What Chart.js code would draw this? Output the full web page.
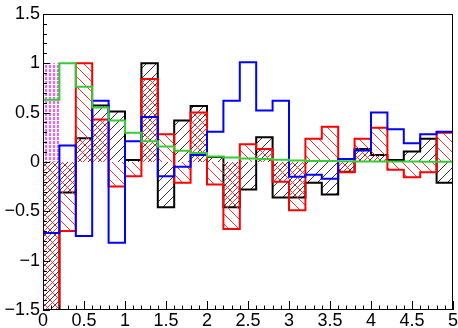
<!DOCTYPE html>
<html><head><meta charset="utf-8">
<script src="https://cdn.jsdelivr.net/npm/chart.js@4"></script>
<style>html,body{margin:0;padding:0;background:#fff;overflow:hidden}</style>
</head><body>
<canvas id="c" width="458" height="328"></canvas>
<script>
// ---- data (25 bins of width 0.2 on [0,5]) ----
const binLow = [0,0.2,0.4,0.6,0.8,1.0,1.2,1.4,1.6,1.8,2.0,2.2,2.4,2.6,2.8,3.0,3.2,3.4,3.6,3.8,4.0,4.2,4.4,4.6,4.8];
const xMax = 5;
const blackVals = [-1.6,-0.31,0.24,0.57,0.51,0.02,1.0,-0.46,0.42,0.565,0.05,-0.46,-0.28,0.25,-0.36,-0.36,-0.21,-0.33,-0.10,0.13,0.07,0.02,0.105,0.235,-0.21];
const redVals   = [-1.6,-0.70,1.0,0.43,-0.25,-0.145,0.84,0.28,-0.21,0.50,-0.23,-0.68,0.18,0.13,-0.20,-0.49,0.235,0.355,-0.105,0.235,0.345,-0.08,-0.155,-0.105,0.295];
const blueVals  = [-0.72,0.165,-0.75,0.62,-0.82,0.21,0.455,-0.145,-0.05,0.07,0.305,0.62,1.01,0.52,0.62,-0.15,-0.13,-0.17,0.03,0.115,0.50,0.33,0.19,0.28,0.305];
const greenVals = [0.63,1.0,0.76,0.55,0.42,0.295,0.21,0.155,0.113,0.09,0.055,0.045,0.035,0.03,0.022,0.015,0.01,0.008,0.006,0.005,0.004,0.003,0.003,0.002,0.002];
const magentaVals = [1.0,0,0,0,0,0,0,0,0,0,0,0,0,0,0,0,0,0,0,0,0,0,0,0,0];
const xTickLabels = ['0','0.5','1','1.5','2','2.5','3','3.5','4','4.5','5'];
const yTickLabels = ['\u22121.5','\u22121','\u22120.5','0','0.5','1','1.5'];

// overlap of black and red (same sign) -> drawn cross-hatched
const overlapVals = blackVals.map((b,i)=>{const r=redVals[i]; return (b*r>0)?Math.sign(b)*Math.min(Math.abs(b),Math.abs(r)):0;});

function steps(vals){
  const pts = binLow.map((x,i)=>({x:x,y:vals[i]}));
  pts.push({x:xMax,y:vals[vals.length-1]});
  return pts;
}
function hatch(color, kind, s){
  const c=document.createElement('canvas'); c.width=s; c.height=s;
  const g=c.getContext('2d'); g.strokeStyle=color; g.lineWidth=1;
  g.beginPath();
  if(kind==='/'){ g.moveTo(-1,s+1); g.lineTo(s+1,-1); g.moveTo(-2,2); g.lineTo(2,-2); g.moveTo(s-2,s+2); g.lineTo(s+2,s-2); }
  else if(kind==='\\'){ g.moveTo(-1,-1); g.lineTo(s+1,s+1); g.moveTo(s-2,-2); g.lineTo(s+2,2); g.moveTo(-2,s-2); g.lineTo(2,s+2); }
  else if(kind==='/o'){ const h=s/2; g.moveTo(-1,h+1); g.lineTo(h+1,-1); g.moveTo(h-1,s+1); g.lineTo(s+1,h-1); }
  else if(kind==='|'){ g.lineWidth=1.3; for(let y=0;y<s;y+=5){ g.moveTo(2,y+1); g.lineTo(2,y+4);} }
  g.stroke();
  return document.getElementById('c').getContext('2d').createPattern(c,'repeat');
}

const frameTicks = {
  id:'frameTicks',
  afterDatasetsDraw(chart){
    const {ctx, chartArea:a, scales:{x,y}} = chart;
    ctx.save();
    ctx.strokeStyle='#000'; ctx.lineWidth=1;
    ctx.beginPath();
    for(let k=0;k<=50;k++){ const px=Math.round(x.getPixelForValue(k/10))+0.5; const len=(k%5===0)?9:4.5; ctx.moveTo(px,a.bottom); ctx.lineTo(px,a.bottom-len); }
    for(let k=-15;k<=15;k++){ const py=Math.round(y.getPixelForValue(k/10))+0.5; const len=(k%5===0)?7:4; ctx.moveTo(a.left,py); ctx.lineTo(a.left+len,py); }
    ctx.stroke();
    ctx.strokeRect(Math.round(a.left)+0.5, Math.round(a.top)+0.5, Math.round(a.right-a.left)-1, Math.round(a.bottom-a.top)-1);
    ctx.restore();
  }
};

const common = {stepped:true, pointRadius:0, tension:0, borderJoinStyle:'miter'};
new Chart(document.getElementById('c'), {
  type:'line',
  data:{datasets:[
    Object.assign({label:'green', data:steps(greenVals), borderColor:'#33cc33', borderWidth:2, fill:false, order:1}, common),
    Object.assign({label:'blue', data:steps(blueVals), borderColor:'#0000ff', borderWidth:2, fill:false, order:2}, common),
    Object.assign({label:'magenta', data:steps(magentaVals), borderColor:'rgba(0,0,0,0)', borderWidth:0, backgroundColor:hatch('#ff00ff','|',4), fill:'origin', order:3}, common),
    Object.assign({label:'overlap', data:steps(overlapVals), borderColor:'rgba(0,0,0,0)', borderWidth:0, backgroundColor:hatch('#ff3333','/o',10), fill:'origin', order:4}, common),
    Object.assign({label:'red', data:steps(redVals), borderColor:'#ff0000', borderWidth:2, backgroundColor:hatch('#ff3333','\\',10), fill:'origin', order:5}, common),
    Object.assign({label:'black', data:steps(blackVals), borderColor:'#000000', borderWidth:2, backgroundColor:hatch('#333333','/',10), fill:'origin', order:6}, common)
  ]},
  options:{
    responsive:false, animation:false, devicePixelRatio:1,
    layout:{padding:{top:11,right:5,left:0,bottom:0}},
    plugins:{legend:{display:false}, tooltip:{enabled:false}},
    scales:{
      x:{type:'linear', min:0, max:5,
         grid:{display:false, drawTicks:false}, border:{display:false},
         ticks:{stepSize:0.5, padding:0, color:'#000', maxRotation:0, autoSkip:false,
                font:{family:'Liberation Sans', size:18},
                callback:(v)=>xTickLabels[Math.round(v/0.5)]},
         afterFit:(s)=>{s.height=18;}},
      y:{type:'linear', min:-1.5, max:1.5,
         grid:{display:false, drawTicks:false}, border:{display:false},
         ticks:{stepSize:0.5, padding:3, color:'#000', autoSkip:false,
                font:{family:'Liberation Sans', size:18},
                callback:(v)=>yTickLabels[Math.round(v/0.5)+3]},
         afterFit:(s)=>{s.width=43;}}
    }
  },
  plugins:[frameTicks]
});
</script>
</body></html>
